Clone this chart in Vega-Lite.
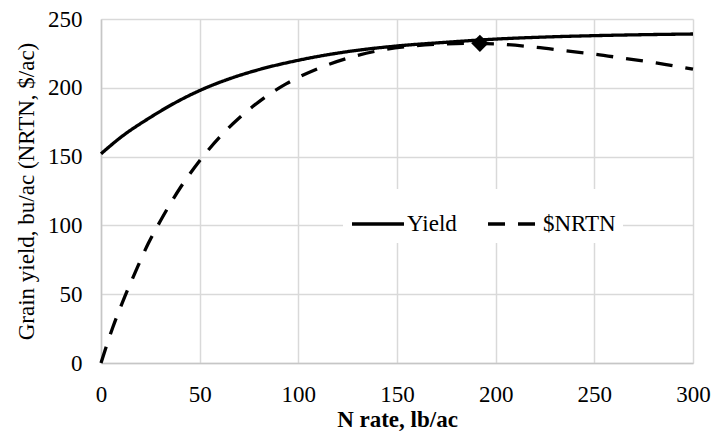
{
  "$schema": "https://vega.github.io/schema/vega-lite/v6.json",
  "width": 592,
  "height": 344,
  "autosize": {"type": "none"},
  "padding": {"left": 101, "top": 19, "right": 27, "bottom": 80},
  "background": "white",
  "config": {
    "font": "Liberation Serif",
    "view": {"stroke": null},
    "axis": {
      "labelFont": "Liberation Serif",
      "titleFont": "Liberation Serif",
      "labelFontSize": 23,
      "titleFontSize": 23,
      "labelColor": "#000000",
      "titleColor": "#000000",
      "gridColor": "#d9d9d9",
      "gridWidth": 1.5,
      "domainColor": "#c6c6c6",
      "domainWidth": 1.5,
      "ticks": false
    },
    "legend": {
      "labelFont": "Liberation Serif",
      "labelFontSize": 23,
      "labelColor": "#000000"
    }
  },
  "datasets": {
    "curves": [
      {"N": 0, "value": 152, "series": "Yield"},
      {"N": 10, "value": 164, "series": "Yield"},
      {"N": 25, "value": 178.5, "series": "Yield"},
      {"N": 40, "value": 191, "series": "Yield"},
      {"N": 50, "value": 198, "series": "Yield"},
      {"N": 67, "value": 207.5, "series": "Yield"},
      {"N": 80, "value": 213.2, "series": "Yield"},
      {"N": 100, "value": 220, "series": "Yield"},
      {"N": 125, "value": 226.3, "series": "Yield"},
      {"N": 150, "value": 230.4, "series": "Yield"},
      {"N": 175, "value": 233.1, "series": "Yield"},
      {"N": 200, "value": 235.4, "series": "Yield"},
      {"N": 225, "value": 236.9, "series": "Yield"},
      {"N": 250, "value": 237.9, "series": "Yield"},
      {"N": 275, "value": 238.6, "series": "Yield"},
      {"N": 300, "value": 239.1, "series": "Yield"},
      {"N": 0, "value": 0, "series": "$NRTN"},
      {"N": 6, "value": 26, "series": "$NRTN"},
      {"N": 12, "value": 48, "series": "$NRTN"},
      {"N": 18, "value": 68, "series": "$NRTN"},
      {"N": 24, "value": 87, "series": "$NRTN"},
      {"N": 30, "value": 103, "series": "$NRTN"},
      {"N": 40, "value": 127, "series": "$NRTN"},
      {"N": 50, "value": 147, "series": "$NRTN"},
      {"N": 60, "value": 164, "series": "$NRTN"},
      {"N": 70, "value": 178, "series": "$NRTN"},
      {"N": 82, "value": 192, "series": "$NRTN"},
      {"N": 94, "value": 203, "series": "$NRTN"},
      {"N": 110, "value": 214, "series": "$NRTN"},
      {"N": 125, "value": 221.5, "series": "$NRTN"},
      {"N": 140, "value": 226.8, "series": "$NRTN"},
      {"N": 155, "value": 229.9, "series": "$NRTN"},
      {"N": 170, "value": 231.6, "series": "$NRTN"},
      {"N": 185, "value": 232.3, "series": "$NRTN"},
      {"N": 200, "value": 231.9, "series": "$NRTN"},
      {"N": 220, "value": 229.5, "series": "$NRTN"},
      {"N": 235, "value": 227, "series": "$NRTN"},
      {"N": 250, "value": 224.5, "series": "$NRTN"},
      {"N": 267, "value": 221, "series": "$NRTN"},
      {"N": 282, "value": 218, "series": "$NRTN"},
      {"N": 300, "value": 213.5, "series": "$NRTN"}
    ],
    "optimum": [
      {"N": 192, "value": 232.3}
    ]
  },
  "layer": [
    {
      "data": {"name": "curves"},
      "mark": {"type": "line", "color": "#000000", "strokeWidth": 3.3, "interpolate": "monotone"},
      "encoding": {
        "x": {
          "field": "N", "type": "quantitative",
          "scale": {"domain": [0, 300], "nice": false},
          "axis": {"values": [0, 50, 100, 150, 200, 250, 300], "title": "N rate, lb/ac", "titleFontWeight": "bold", "labelPadding": 20, "titlePadding": 2, "labelFlush": false}
        },
        "y": {
          "field": "value", "type": "quantitative",
          "scale": {"domain": [0, 250], "nice": false},
          "axis": {"values": [0, 50, 100, 150, 200, 250], "title": "Grain yield, bu/ac (NRTN, $/ac)", "titleFontWeight": "normal", "labelPadding": 19, "titlePadding": 9}
        },
        "strokeDash": {
          "field": "series", "type": "nominal",
          "scale": {"domain": ["Yield", "$NRTN"], "range": [[1, 0], [17, 13]]},
          "legend": {
            "title": null,
            "orient": "none",
            "legendX": 242,
            "legendY": 170,
            "direction": "horizontal",
            "fillColor": "white",
            "padding": 7,
            "symbolType": "stroke",
            "symbolSize": 2700,
            "symbolStrokeWidth": 3.3,
            "symbolStrokeColor": "#000000",
            "labelOffset": 1,
            "columnPadding": 24
          }
        }
      }
    },
    {
      "data": {"name": "optimum"},
      "mark": {"type": "point", "shape": "diamond", "filled": true, "color": "#000000", "size": 300, "opacity": 1},
      "encoding": {
        "x": {"field": "N", "type": "quantitative"},
        "y": {"field": "value", "type": "quantitative"}
      }
    }
  ]
}
